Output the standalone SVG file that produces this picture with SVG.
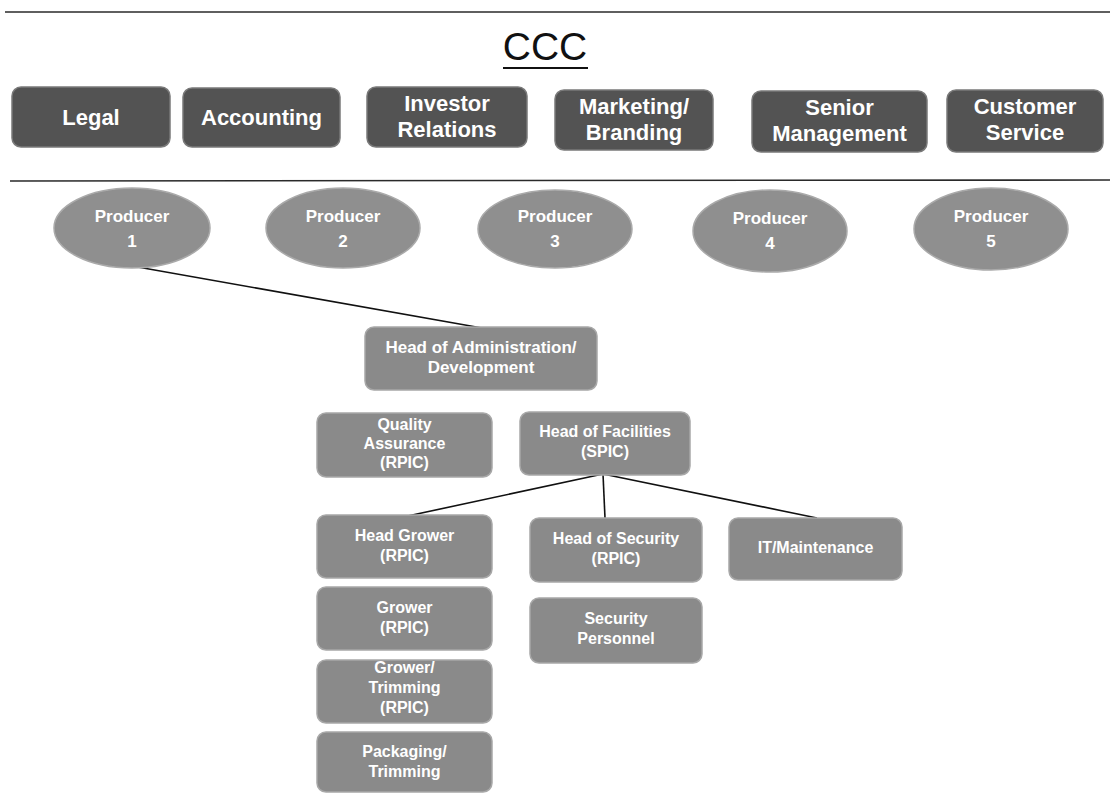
<svg xmlns="http://www.w3.org/2000/svg" width="1110" height="793" viewBox="0 0 1110 793">
<style>
.dark{fill:#535353;stroke:#7a7a7a;stroke-width:1.5}
.light{fill:#8a8a8a;stroke:#a8a8a8;stroke-width:1.5}
.ell{fill:#8f8f8f;stroke:#aaaaaa;stroke-width:1.5}
.t1{font-family:"Liberation Sans",Arial,sans-serif;font-weight:bold;font-size:22px;fill:#ffffff;text-anchor:middle}
.t2{font-family:"Liberation Sans",Arial,sans-serif;font-weight:bold;font-size:16px;fill:#ffffff;text-anchor:middle}
.t3{font-family:"Liberation Sans",Arial,sans-serif;font-weight:bold;font-size:17px;fill:#ffffff;text-anchor:middle}
.rule{stroke:#2a2a2a;stroke-width:1.6;fill:none}
.conn{stroke:#111111;stroke-width:1.6;fill:none}
</style>
<rect x="0" y="0" width="1110" height="793" fill="#ffffff"/>
<g id="rules">
<line class="rule" x1="5" y1="12" x2="1110" y2="12"/>
<line class="rule" x1="10" y1="181" x2="1110" y2="180"/>
</g>
<g id="title">
<text x="545" y="60" font-family="'Liberation Sans',Arial,sans-serif" font-size="39" fill="#111" text-anchor="middle">CCC</text>
<line x1="503" y1="68" x2="588" y2="68" stroke="#111" stroke-width="2"/>
</g>
<g id="connectors">
<line class="conn" x1="132" y1="266" x2="482" y2="328"/>
<line class="conn" x1="603" y1="474" x2="403" y2="517"/>
<line class="conn" x1="603" y1="474" x2="605" y2="518"/>
<line class="conn" x1="603" y1="474" x2="817" y2="518"/>
</g>
<g id="legal"><rect class="dark" x="12" y="87" width="158" height="60" rx="9"/><text class="t1" x="91" y="125">Legal</text></g>
<g id="accounting"><rect class="dark" x="183" y="88" width="157" height="59" rx="9"/><text class="t1" x="261.5" y="125">Accounting</text></g>
<g id="investor-relations"><rect class="dark" x="367" y="87" width="160" height="60" rx="9"/><text class="t1" x="447" y="111">Investor</text><text class="t1" x="447" y="137">Relations</text></g>
<g id="marketing-branding"><rect class="dark" x="555" y="90" width="158" height="60" rx="9"/><text class="t1" x="634" y="114">Marketing/</text><text class="t1" x="634" y="140">Branding</text></g>
<g id="senior-management"><rect class="dark" x="752" y="91" width="175" height="61" rx="9"/><text class="t1" x="839.5" y="115">Senior</text><text class="t1" x="839.5" y="141">Management</text></g>
<g id="customer-service"><rect class="dark" x="947" y="90" width="156" height="62" rx="9"/><text class="t1" x="1025" y="114">Customer</text><text class="t1" x="1025" y="140">Service</text></g>
<g id="producer-1"><ellipse class="ell" cx="132" cy="228" rx="78" ry="40"/><text class="t3" x="132" y="222">Producer</text><text class="t3" x="132" y="247">1</text></g>
<g id="producer-2"><ellipse class="ell" cx="343" cy="228" rx="77" ry="40"/><text class="t3" x="343" y="222">Producer</text><text class="t3" x="343" y="247">2</text></g>
<g id="producer-3"><ellipse class="ell" cx="555" cy="229" rx="77" ry="39"/><text class="t3" x="555" y="222">Producer</text><text class="t3" x="555" y="247">3</text></g>
<g id="producer-4"><ellipse class="ell" cx="770" cy="231" rx="77" ry="41"/><text class="t3" x="770" y="224">Producer</text><text class="t3" x="770" y="249">4</text></g>
<g id="producer-5"><ellipse class="ell" cx="991" cy="229" rx="77" ry="41"/><text class="t3" x="991" y="222">Producer</text><text class="t3" x="991" y="247">5</text></g>
<g id="head-admin"><rect class="light" x="365" y="327" width="232" height="63" rx="9"/><text class="t3" x="481" y="353">Head of Administration/</text><text class="t3" x="481" y="373">Development</text></g>
<g id="quality-assurance"><rect class="light" x="317" y="413" width="175" height="64" rx="9"/><text class="t2" x="404.5" y="430">Quality</text><text class="t2" x="404.5" y="449">Assurance</text><text class="t2" x="404.5" y="468">(RPIC)</text></g>
<g id="head-facilities"><rect class="light" x="520" y="412" width="170" height="63" rx="9"/><text class="t2" x="605" y="437">Head of Facilities</text><text class="t2" x="605" y="457">(SPIC)</text></g>
<g id="head-grower"><rect class="light" x="317" y="515" width="175" height="63" rx="9"/><text class="t2" x="404.5" y="541">Head Grower</text><text class="t2" x="404.5" y="561">(RPIC)</text></g>
<g id="head-security"><rect class="light" x="530" y="518" width="172" height="64" rx="9"/><text class="t2" x="616" y="544">Head of Security</text><text class="t2" x="616" y="564">(RPIC)</text></g>
<g id="it-maintenance"><rect class="light" x="729" y="518" width="173" height="62" rx="9"/><text class="t2" x="815.5" y="553">IT/Maintenance</text></g>
<g id="grower"><rect class="light" x="317" y="587" width="175" height="63" rx="9"/><text class="t2" x="404.5" y="613">Grower</text><text class="t2" x="404.5" y="633">(RPIC)</text></g>
<g id="security-personnel"><rect class="light" x="530" y="598" width="172" height="65" rx="9"/><text class="t2" x="616" y="624">Security</text><text class="t2" x="616" y="644">Personnel</text></g>
<g id="grower-trimming"><rect class="light" x="317" y="660" width="175" height="63" rx="9"/><text class="t2" x="404.5" y="673">Grower/</text><text class="t2" x="404.5" y="693">Trimming</text><text class="t2" x="404.5" y="713">(RPIC)</text></g>
<g id="packaging-trimming"><rect class="light" x="317" y="732" width="175" height="60" rx="9"/><text class="t2" x="404.5" y="757">Packaging/</text><text class="t2" x="404.5" y="777">Trimming</text></g>
</svg>
